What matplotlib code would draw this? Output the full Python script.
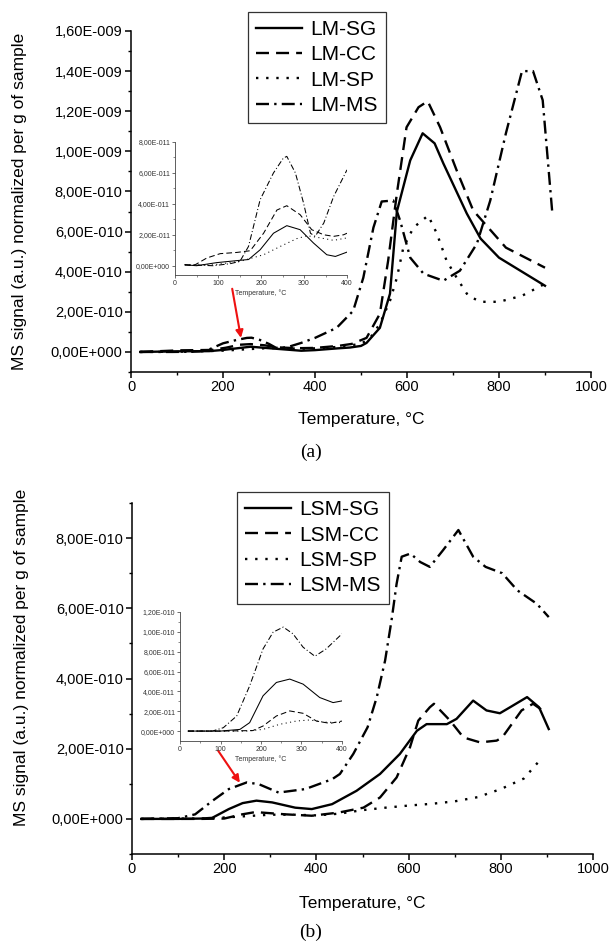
import numpy as np
import matplotlib
matplotlib.use("Agg")
import matplotlib.pyplot as plt
from matplotlib.ticker import FixedLocator, FuncFormatter

plt.rcParams['font.family'] = ['Liberation Sans', 'DejaVu Sans']

# ---- panel (a): LM samples, main curves (signal in units of 1e-9) ----
lm_sg_t = [20, 100, 170, 200, 260, 320, 370, 400, 450, 476, 500, 512, 541, 563, 578, 607, 634, 660, 679, 730, 760, 800, 850, 900]
lm_sg_v = [0, 0.003, 0.004, 0.01, 0.026, 0.015, 0.006, 0.009, 0.018, 0.022, 0.03, 0.045, 0.12, 0.29, 0.70, 0.955, 1.09, 1.04, 0.94, 0.69, 0.565, 0.47, 0.40, 0.33]

lm_cc_t = [20, 74, 105, 144, 175, 206, 237, 260, 291, 318, 346, 370, 400, 450, 480, 512, 541, 559, 578, 599, 625, 645, 672, 708, 744, 815, 900]
lm_cc_v = [0, 0.005, 0.008, 0.009, 0.01, 0.021, 0.036, 0.039, 0.033, 0.023, 0.02, 0.019, 0.02, 0.03, 0.04, 0.07, 0.19, 0.455, 0.79, 1.12, 1.22, 1.25, 1.12, 0.905, 0.705, 0.52, 0.42]

lm_sp_t = [20, 90, 150, 206, 245, 283, 307, 338, 370, 400, 450, 500, 520, 541, 563, 578, 592, 614, 646, 665, 686, 708, 733, 760, 800, 850, 900]
lm_sp_v = [0, 0.001, 0.003, 0.007, 0.0125, 0.0175, 0.019, 0.018, 0.016, 0.018, 0.025, 0.04, 0.07, 0.14, 0.255, 0.37, 0.52, 0.62, 0.68, 0.59, 0.455, 0.37, 0.28, 0.25, 0.25, 0.28, 0.34]

lm_ms_t = [20, 90, 130, 150, 170, 200, 230, 252, 262, 280, 300, 315, 326, 346, 370, 400, 447, 483, 505, 527, 545, 570, 585, 607, 636, 679, 715, 752, 781, 815, 850, 874, 895, 916]
lm_ms_v = [0, 0, 0.001, 0.003, 0.0125, 0.043, 0.06, 0.07, 0.071, 0.06, 0.04, 0.021, 0.019, 0.028, 0.045, 0.07, 0.12, 0.205, 0.37, 0.62, 0.75, 0.755, 0.655, 0.47, 0.39, 0.355, 0.405, 0.54, 0.755, 1.09, 1.40, 1.40, 1.255, 0.69]

# panel (a) inset (signal in units of 1e-11)
ia_sg_t = [23, 50, 97, 151, 171, 198, 229, 260, 291, 322, 353, 373, 400]
ia_sg_v = [0.06, 0, 0.2, 0.35, 0.4, 1.03, 2.1, 2.59, 2.33, 1.47, 0.71, 0.6, 0.88]
ia_cc_t = [23, 43, 74, 105, 144, 175, 206, 237, 260, 291, 318, 346, 369, 392, 400]
ia_cc_v = [0.06, 0, 0.5, 0.78, 0.86, 0.97, 2.1, 3.6, 3.88, 3.3, 2.33, 2.0, 1.9, 2.0, 2.1]
ia_sp_t = [23, 89, 151, 206, 245, 283, 307, 338, 369, 400]
ia_sp_v = [0.06, 0.06, 0.28, 0.71, 1.25, 1.75, 1.94, 1.8, 1.64, 1.8]
ia_ms_t = [23, 89, 128, 151, 171, 198, 229, 252, 260, 280, 299, 315, 326, 346, 369, 400]
ia_ms_v = [0.06, 0, 0.13, 0.28, 1.25, 4.27, 6.0, 6.96, 7.07, 6.0, 4.05, 2.1, 1.9, 2.76, 4.48, 6.2]

# ---- panel (b): LSM samples, main curves (signal in units of 1e-10) ----
lsm_sg_t = [20, 100, 150, 174, 210, 240, 270, 304, 354, 390, 434, 487, 538, 581, 618, 639, 683, 704, 740, 769, 798, 820, 857, 883, 904]
lsm_sg_v = [0, 0, 0.01, 0.03, 0.28, 0.45, 0.52, 0.47, 0.32, 0.28, 0.42, 0.8, 1.28, 1.85, 2.51, 2.7, 2.7, 2.85, 3.37, 3.09, 3.01, 3.18, 3.47, 3.18, 2.56]

lsm_cc_t = [20, 150, 200, 239, 270, 282, 333, 390, 448, 502, 538, 574, 603, 621, 646, 655, 690, 719, 755, 791, 803, 845, 870, 895]
lsm_cc_v = [0, 0, 0.01, 0.13, 0.2, 0.18, 0.13, 0.09, 0.18, 0.32, 0.61, 1.18, 2.04, 2.8, 3.18, 3.28, 2.8, 2.32, 2.18, 2.23, 2.32, 3.09, 3.28, 3.05]

lsm_sp_t = [20, 150, 200, 250, 300, 350, 400, 450, 500, 550, 600, 650, 700, 750, 800, 850, 880]
lsm_sp_v = [0, 0.01, 0.04, 0.08, 0.12, 0.12, 0.1, 0.15, 0.25, 0.32, 0.38, 0.43, 0.5, 0.62, 0.85, 1.15, 1.6]

lsm_ms_t = [20, 100, 137, 174, 210, 249, 275, 318, 376, 434, 451, 480, 511, 531, 549, 563, 574, 585, 604, 625, 646, 675, 708, 740, 767, 803, 836, 878, 904]
lsm_ms_v = [0, 0.02, 0.13, 0.51, 0.85, 1.04, 0.99, 0.75, 0.85, 1.13, 1.28, 1.85, 2.61, 3.47, 4.51, 5.66, 6.7, 7.47, 7.56, 7.32, 7.18, 7.66, 8.23, 7.47, 7.18, 7.0, 6.51, 6.13, 5.75]

# panel (b) inset (signal in units of 1e-11)
ib_sg_t = [20, 100, 148, 172, 205, 238, 271, 304, 345, 378, 400]
ib_sg_v = [0, 0, 0.17, 0.85, 3.55, 4.9, 5.24, 4.73, 3.38, 2.87, 3.04]
ib_cc_t = [20, 100, 180, 205, 238, 271, 304, 337, 370, 400]
ib_cc_v = [0, 0, 0.05, 0.51, 1.52, 2.03, 1.79, 1.01, 0.78, 1.01]
ib_sp_t = [20, 100, 164, 205, 246, 287, 320, 353, 400]
ib_sp_v = [0, 0, 0, 0.17, 0.68, 1.01, 1.12, 0.91, 0.85]
ib_ms_t = [20, 80, 107, 140, 172, 205, 230, 255, 279, 304, 333, 361, 400]
ib_ms_v = [0, 0, 0.34, 1.52, 4.56, 8.28, 9.97, 10.48, 9.8, 8.45, 7.54, 8.28, 9.8]

labels_a = ["LM-SG", "LM-CC", "LM-SP", "LM-MS"]
labels_b = ["LSM-SG", "LSM-CC", "LSM-SP", "LSM-MS"]

# tick positions
main_xticks = [0, 200, 400, 600, 800, 1000]
main_xminor = [100, 300, 500, 700, 900]
a_yticks = [0, 2e-10, 4e-10, 6e-10, 8e-10, 1.0e-9, 1.2e-9, 1.4e-9, 1.6e-9]
a_yminor = [-1e-10, 1e-10, 3e-10, 5e-10, 7e-10, 9e-10, 1.1e-9, 1.3e-9, 1.5e-9]
b_yticks = [0, 2e-10, 4e-10, 6e-10, 8e-10]
b_yminor = [-1e-10, 1e-10, 3e-10, 5e-10, 7e-10, 9e-10]
ins_xticks = [0, 100, 200, 300, 400]
ins_xminor = [50, 150, 250, 350]
ia_yticks = [0, 2e-11, 4e-11, 6e-11, 8e-11]
ia_yminor = [1e-11, 3e-11, 5e-11, 7e-11]
ib_yticks = [0, 2e-11, 4e-11, 6e-11, 8e-11, 1.0e-10, 1.2e-10]
ib_yminor = [1e-11, 3e-11, 5e-11, 7e-11, 9e-11, 1.1e-10]

styles = ["-", (0, (5.5, 3)), (0, (1, 3.3)), (0, (5.5, 2.2, 1, 2.2))]


def origin_fmt(v, pos):
    s = f"{v:.2E}"
    mant, ex = s.split("E")
    if abs(v) < 1e-30:
        return "0,00E+000"
    return mant.replace(".", ",") + "E" + f"{int(ex):+04d}"


def style_main(ax, yticks, yminor):
    for s in ["top", "right"]:
        ax.spines[s].set_visible(False)
    for s in ["left", "bottom"]:
        ax.spines[s].set_linewidth(1.1)
    ax.set_xlim(0, 1000)
    ax.xaxis.set_major_locator(FixedLocator(main_xticks))
    ax.xaxis.set_minor_locator(FixedLocator(main_xminor))
    ax.yaxis.set_major_locator(FixedLocator(yticks))
    ax.yaxis.set_minor_locator(FixedLocator(yminor))
    ax.yaxis.set_major_formatter(FuncFormatter(origin_fmt))
    ax.tick_params(which="major", direction="out", length=4, width=1.1, labelsize=10.5, pad=2)
    ax.tick_params(which="minor", direction="out", length=2.5, width=1.0)
    ax.set_xlabel("Temperature, °C", fontsize=12.5)
    ax.set_ylabel("MS signal (a.u.) normalized per g of sample", fontsize=12.5)


def style_inset(ax, ylim, yticks, yminor):
    for s in ["top", "right"]:
        ax.spines[s].set_visible(False)
    for s in ["left", "bottom"]:
        ax.spines[s].set_linewidth(0.6)
        ax.spines[s].set_color("#444444")
    ax.set_facecolor("none")
    ax.set_xlim(0, 400)
    ax.set_ylim(*ylim)
    ax.xaxis.set_major_locator(FixedLocator(ins_xticks))
    ax.xaxis.set_minor_locator(FixedLocator(ins_xminor))
    ax.yaxis.set_major_locator(FixedLocator(yticks))
    ax.yaxis.set_minor_locator(FixedLocator(yminor))
    ax.yaxis.set_major_formatter(FuncFormatter(origin_fmt))
    ax.tick_params(which="major", direction="out", length=2, width=0.5, labelsize=5,
                   pad=1.5, colors="#333333")
    ax.tick_params(which="minor", direction="out", length=1.2, width=0.4, colors="#333333")
    ax.set_xlabel("Temperature, °C", fontsize=5, labelpad=2, color="#333333")


def add_legend(ax, x, y):
    leg = ax.legend(loc="upper left", bbox_to_anchor=(x, y), borderaxespad=0,
                    fontsize=15, frameon=True, fancybox=False, edgecolor="#333333",
                    framealpha=1, handlelength=2.2, handletextpad=0.4, labelspacing=0.3,
                    borderpad=0.4)
    leg.get_frame().set_linewidth(0.9)


fig = plt.figure(figsize=(6.1, 9.49), dpi=100)

# ---------------- panel (a) ----------------
ax_a = fig.add_axes([131 / 610, 1 - 372 / 949, 460 / 610, 341 / 949])
series_a = [(lm_sg_t, lm_sg_v), (lm_cc_t, lm_cc_v), (lm_sp_t, lm_sp_v), (lm_ms_t, lm_ms_v)]
for (t, v), ls, lab in zip(series_a, styles, labels_a):
    ax_a.plot(t, np.array(v) * 1e-9, color="black", lw=1.7, linestyle=ls, label=lab)
ax_a.set_ylim(-1e-10, 1.6e-9)
style_main(ax_a, a_yticks, a_yminor)
ax_a.xaxis.set_label_coords(0.5, -0.117)
ax_a.yaxis.set_label_coords(-0.226, 0.5)
add_legend(ax_a, 0.254, 1.056)
ax_a.annotate("", xy=(239, 0.07e-9), xytext=(220, 0.315e-9),
              arrowprops=dict(arrowstyle="-|>", color="#ee1111", lw=1.5, mutation_scale=11,
                              shrinkA=0, shrinkB=0))

ins_a = fig.add_axes([175 / 610, 1 - 275 / 949, 172 / 610, 133 / 949])
series_ia = [(ia_sg_t, ia_sg_v), (ia_cc_t, ia_cc_v), (ia_sp_t, ia_sp_v), (ia_ms_t, ia_ms_v)]
for (t, v), ls in zip(series_ia, styles):
    ins_a.plot(t, np.array(v) * 1e-11, color="black", lw=0.75, linestyle=ls)
style_inset(ins_a, (-0.6e-11, 8e-11), ia_yticks, ia_yminor)

# ---------------- panel (b) ----------------
ax_b = fig.add_axes([132 / 610, 1 - 854 / 949, 461 / 610, 351 / 949])
series_b = [(lsm_sg_t, lsm_sg_v), (lsm_cc_t, lsm_cc_v), (lsm_sp_t, lsm_sp_v), (lsm_ms_t, lsm_ms_v)]
for (t, v), ls, lab in zip(series_b, styles, labels_b):
    ax_b.plot(t, np.array(v) * 1e-10, color="black", lw=1.7, linestyle=ls, label=lab)
ax_b.set_ylim(-1e-10, 9e-10)
style_main(ax_b, b_yticks, b_yminor)
ax_b.xaxis.set_label_coords(0.5, -0.12)
ax_b.yaxis.set_label_coords(-0.223, 0.56)
add_legend(ax_b, 0.228, 1.031)
ax_b.annotate("", xy=(234, 1.03e-10), xytext=(187, 1.94e-10),
              arrowprops=dict(arrowstyle="-|>", color="#ee1111", lw=1.5, mutation_scale=11,
                              shrinkA=0, shrinkB=0))

ins_b = fig.add_axes([180 / 610, 1 - 741 / 949, 162 / 610, 129 / 949])
series_ib = [(ib_sg_t, ib_sg_v), (ib_cc_t, ib_cc_v), (ib_sp_t, ib_sp_v), (ib_ms_t, ib_ms_v)]
for (t, v), ls in zip(series_ib, styles):
    ins_b.plot(t, np.array(v) * 1e-11, color="black", lw=0.75, linestyle=ls)
style_inset(ins_b, (-1e-11, 1.2e-10), ib_yticks, ib_yminor)

# captions
fig.text(311 / 610, 1 - 452 / 949, "(a)", ha="center", va="center", fontsize=14,
         family=["Liberation Serif", "DejaVu Serif"])
fig.text(311 / 610, 1 - 932 / 949, "(b)", ha="center", va="center", fontsize=14,
         family=["Liberation Serif", "DejaVu Serif"])

fig.savefig("out.png", dpi=100)
